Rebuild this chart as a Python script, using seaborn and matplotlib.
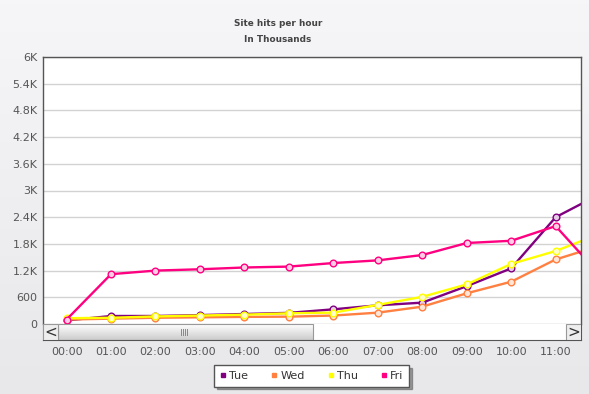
import numpy as np
import pandas as pd
import matplotlib
matplotlib.use("Agg")
import matplotlib.pyplot as plt
from matplotlib.lines import Line2D
from matplotlib.patches import Rectangle
import seaborn as sns

# data (hits per hour)
hours = ["00:00", "01:00", "02:00", "03:00", "04:00", "05:00",
         "06:00", "07:00", "08:00", "09:00", "10:00", "11:00", "12:00"]
days = ["Tue", "Wed", "Thu", "Fri"]
tue = [80, 180, 180, 200, 225, 250, 330, 420, 480, 850, 1250, 2400, 2920]
wed = [100, 120, 140, 150, 160, 165, 190, 255, 390, 690, 950, 1450, 1760]
thu = [130, 140, 170, 190, 210, 240, 255, 430, 610, 890, 1350, 1640, 2030]
fri = [100, 1120, 1200, 1230, 1270, 1290, 1370, 1430, 1550, 1820, 1870, 2200, 1100]
colors = {"Tue": "#800080", "Wed": "#FF8040", "Thu": "#FFFF00", "Fri": "#FF0080"}
yticks = [0, 600, 1200, 1800, 2400, 3000, 3600, 4200, 4800, 5400, 6000]
ylabels = ["0", "600", "1.2K", "1.8K", "2.4K", "3K", "3.6K", "4.2K", "4.8K", "5.4K", "6K"]

df = pd.DataFrame({
    "hour": list(range(len(hours))) * 4,
    "hits": tue + wed + thu + fri,
    "day": [d for d in days for _ in hours],
})

fig = plt.figure(figsize=(5.89, 3.94), dpi=100)

# soft gray gradient background
bg = fig.add_axes([0, 0, 1, 1], zorder=-10)
grad = np.linspace(0.965, 0.91, 100).reshape(-1, 1)
bg.imshow(np.dstack([grad, grad, grad + 0.01]), aspect="auto", extent=[0, 1, 0, 1])
bg.axis("off")

L, R = 43 / 589, 581 / 589
ax = fig.add_axes([L, 1 - 324 / 394, R - L, (324 - 57) / 394])
ax.set_facecolor("white")

sns.lineplot(data=df, x="hour", y="hits", hue="day", hue_order=days,
             palette=colors, marker="o", markersize=4.8, linewidth=1.7,
             markeredgewidth=1.0, legend=False, ax=ax)
for line in ax.get_lines():
    c = np.array(matplotlib.colors.to_rgb(line.get_color()))
    line.set_markerfacecolor(tuple(c * 0.2 + 0.8))
    line.set_markeredgecolor(tuple(c))

ax.set_xlim(-0.53, 11.57)
ax.set_ylim(0, 6000)
ax.set_yticks(yticks)
ax.set_yticklabels(ylabels)
ax.set_xticks([])
ax.set_xlabel("")
ax.set_ylabel("")
ax.grid(axis="y", color="#D2D2D2", linewidth=1)
ax.set_axisbelow(True)
ax.tick_params(axis="y", length=0, pad=4, labelsize=8, labelcolor="#555555")
for s in ["left", "top", "right"]:
    ax.spines[s].set_color("#555555")
    ax.spines[s].set_linewidth(1)
ax.spines["bottom"].set_color("#AAAAAA")

# scrollbar strip under the plot
sb = fig.add_axes([L, 1 - 340 / 394, R - L, 16 / 394])
sb.set_xlim(43, 581)
sb.set_ylim(0, 16)
sb.add_patch(Rectangle((43, 0), 538, 16, facecolor="white", edgecolor="none", zorder=0))
tgrad = np.linspace(1.0, 0.80, 50).reshape(-1, 1)
sb.imshow(np.dstack([tgrad] * 3), aspect="auto", extent=[58, 313, 0, 16], zorder=1)
sb.add_patch(Rectangle((58, 0), 255, 16, fill=False, edgecolor="#999999", lw=0.8, zorder=2))
for x0 in (43, 566):
    sb.add_patch(Rectangle((x0, 0), 15, 16, facecolor="#EEEEEE", edgecolor="#999999", lw=0.8, zorder=3))
sb.text(50.5, 8, "<", ha="center", va="center", fontsize=11, color="#333333", zorder=4)
sb.text(573.5, 8, ">", ha="center", va="center", fontsize=11, color="#333333", zorder=4)
for gx in (181, 183, 185, 187):
    sb.plot([gx, gx], [5, 11], color="#888888", lw=0.7, zorder=4)
sb.set_xticks([])
sb.set_yticks([])
for s in sb.spines.values():
    s.set_color("#555555")
sb.spines["top"].set_visible(False)

# hour labels under the scrollbar
for i, h in enumerate(hours[:12]):
    fig.text((66.7 + i * 44.45) / 589, 1 - 352 / 394, h, ha="center", va="center",
             fontsize=8, color="#555555")

fig.text(278 / 589, 1 - 23 / 394, "Site hits per hour", ha="center", va="center",
         fontsize=6.4, fontweight="bold", color="#444444")
fig.text(278 / 589, 1 - 39 / 394, "In Thousands", ha="center", va="center",
         fontsize=6.4, fontweight="bold", color="#444444")

handles = [Line2D([], [], marker="s", linestyle="none", markersize=3.5,
                  color=colors[d], label=d) for d in days]
leg = fig.legend(handles=handles, loc="center", ncol=4,
                 bbox_to_anchor=(311.5 / 589, 1 - 376 / 394), fontsize=8,
                 frameon=True, fancybox=False, shadow=True, handletextpad=0.2,
                 columnspacing=2.0, handlelength=0.7, borderpad=0.5)
leg.get_frame().set_edgecolor("#555555")
leg.get_frame().set_linewidth(1)
for t in leg.get_texts():
    t.set_color("#333333")

fig.savefig("out.png", dpi=100)
